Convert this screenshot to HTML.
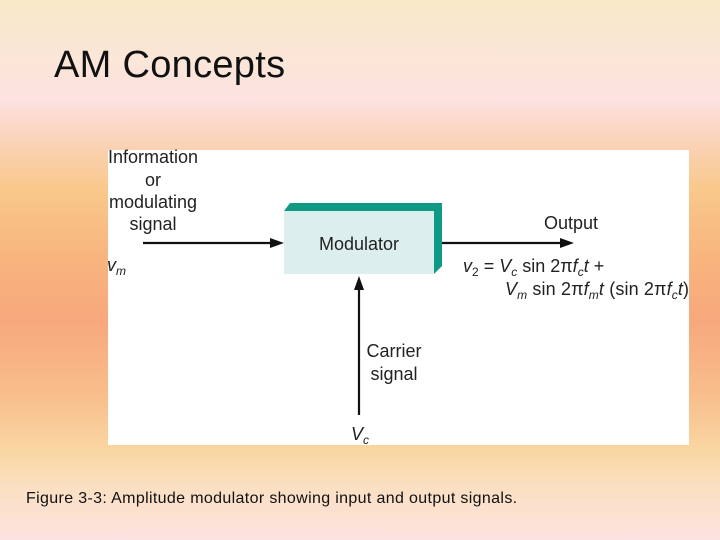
<!DOCTYPE html>
<html><head><meta charset="utf-8"><style>
html,body{margin:0;padding:0}
body{width:720px;height:540px;overflow:hidden;position:relative;
background:linear-gradient(to bottom,#f9e8c8 0px,#fbe6d8 60px,#fce2e0 100px,#fbd6c4 130px,#f9c88a 190px,#f8b47e 260px,#f7a87c 320px,#f8bc8a 390px,#f9d6a2 450px,#fbe0c4 490px,#fce2e0 540px);
font-family:"Liberation Sans",sans-serif}
.title{position:absolute;left:54px;top:44px;font-size:38px;color:#111;font-family:"Liberation Sans",sans-serif;letter-spacing:0.3px}
.cap{position:absolute;left:26px;top:490px;font-size:16px;letter-spacing:0.35px;color:#111}
svg{position:absolute;left:0;top:0}
</style></head><body>
<div class="title">AM Concepts</div>
<svg width="720" height="540" font-family="Liberation Sans, sans-serif" fill="#222">
<rect x="108" y="150" width="581" height="295" fill="#fff"/>
<polygon points="284,211 290,203 442,203 442,211" fill="#0e9a85"/>
<polygon points="434,211 442,203 442,266 434,274" fill="#0e9a85"/>
<rect x="284" y="211" width="150" height="63" fill="#dcefee"/>
<text x="359" y="250" font-size="18" text-anchor="middle">Modulator</text>
<g font-size="18" text-anchor="middle">
<text x="153" y="163">Information</text>
<text x="153" y="186">or</text>
<text x="153" y="208">modulating</text>
<text x="153" y="230">signal</text>
<text x="571" y="229">Output</text>
<text x="394" y="357">Carrier</text>
<text x="394" y="380">signal</text>
</g>
<line x1="143" y1="243" x2="272" y2="243" stroke="#111" stroke-width="2.2"/>
<polygon points="270,238 284,243 270,248" fill="#111"/>
<line x1="442" y1="243" x2="562" y2="243" stroke="#111" stroke-width="2.2"/>
<polygon points="560,238 574,243 560,248" fill="#111"/>
<line x1="359" y1="415" x2="359" y2="288" stroke="#111" stroke-width="2.2"/>
<polygon points="354,290 359,276 364,290" fill="#111"/>
<text x="107" y="271" font-size="18" font-style="italic">v<tspan font-size="12" dy="4">m</tspan></text>
<text x="351" y="440" font-size="18" font-style="italic">V<tspan font-size="12" dy="4">c</tspan></text>
<text x="463" y="272" font-size="18"><tspan font-style="italic">v</tspan><tspan font-size="12" dy="4">2</tspan><tspan dy="-4"> = </tspan><tspan font-style="italic">V</tspan><tspan font-size="12" dy="4" font-style="italic">c</tspan><tspan dy="-4"> sin 2π</tspan><tspan font-style="italic">f</tspan><tspan font-size="12" dy="4" font-style="italic">c</tspan><tspan dy="-4" font-style="italic">t</tspan><tspan> +</tspan></text>
<text x="505" y="295" font-size="18" textLength="184" lengthAdjust="spacing"><tspan font-style="italic">V</tspan><tspan font-size="12" dy="4" font-style="italic">m</tspan><tspan dy="-4"> sin 2π</tspan><tspan font-style="italic">f</tspan><tspan font-size="12" dy="4" font-style="italic">m</tspan><tspan dy="-4" font-style="italic">t</tspan><tspan> (sin 2π</tspan><tspan font-style="italic">f</tspan><tspan font-size="12" dy="4" font-style="italic">c</tspan><tspan dy="-4" font-style="italic">t</tspan><tspan>)</tspan></text>
</svg>
<div class="cap">Figure 3-3: Amplitude modulator showing input and output signals.</div>
</body></html>
